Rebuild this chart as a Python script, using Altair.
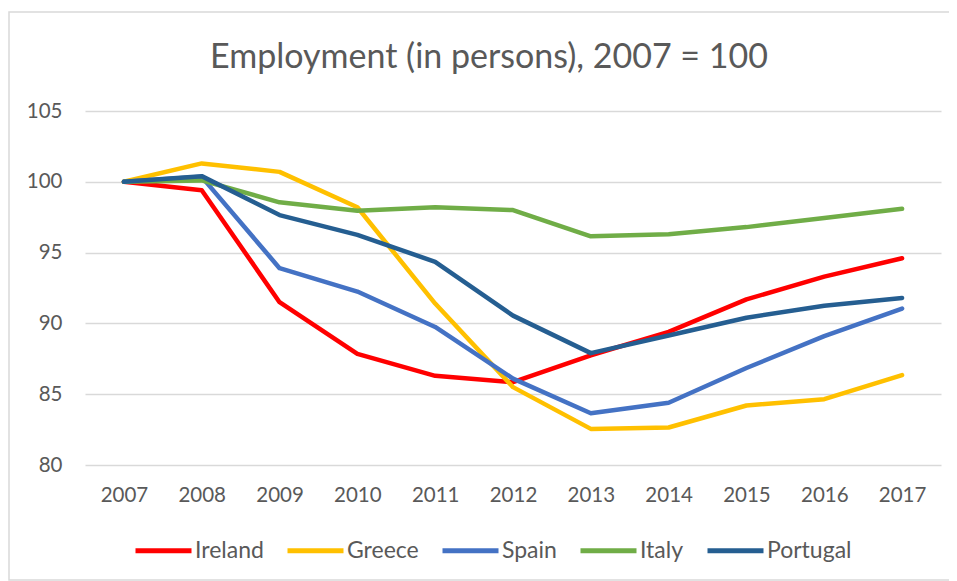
import altair as alt
import pandas as pd

years = ["2007", "2008", "2009", "2010", "2011", "2012", "2013", "2014", "2015", "2016", "2017"]
countries = ["Ireland", "Greece", "Spain", "Italy", "Portugal"]
colors = ["#FF0000", "#FFC000", "#4472C4", "#70AD47", "#255E91"]

ireland = [100, 99.4, 91.5, 87.85, 86.3, 85.85, 87.75, 89.4, 91.7, 93.3, 94.6]
greece = [100, 101.3, 100.7, 98.2, 91.4, 85.5, 82.55, 82.65, 84.2, 84.65, 86.35]
spain = [100, 100.35, 93.9, 92.25, 89.75, 86.1, 83.65, 84.4, 86.85, 89.1, 91.05]
italy = [100, 100.1, 98.55, 97.95, 98.2, 98.0, 96.15, 96.3, 96.8, 97.45, 98.1]
portugal = [100, 100.4, 97.65, 96.25, 94.35, 90.55, 87.9, 89.15, 90.4, 91.25, 91.8]

series = [ireland, greece, spain, italy, portugal]
rows = []
for i, (c, vals) in enumerate(zip(countries, series)):
    for y, v in zip(years, vals):
        rows.append({"year": y, "country": c, "value": v, "order": i})
df = pd.DataFrame(rows)

font = "Lato"
grey = "#595959"

lines = alt.Chart(df).mark_line(strokeWidth=4.5, strokeCap="round", strokeJoin="round").encode(
    x=alt.X("year:N", sort=years, scale=alt.Scale(type="point", padding=0.5),
            axis=alt.Axis(title=None, labelAngle=0, domain=False, ticks=False, grid=False,
                          labelPadding=20, labelFontSize=20.5, labelColor=grey, labelFont=font)),
    y=alt.Y("value:Q", scale=alt.Scale(domain=[80, 105], nice=False, zero=False),
            axis=alt.Axis(title=None, values=[80, 85, 90, 95, 100, 105], domain=False, ticks=False,
                          labelPadding=23, labelFontSize=20.5, labelColor=grey, labelFont=font,
                          gridColor="#D9D9D9", gridWidth=1.5)),
    color=alt.Color("country:N", sort=countries,
                    scale=alt.Scale(domain=countries, range=colors),
                    legend=alt.Legend(title=None, orient="none", direction="horizontal",
                                      legendX=48, legendY=409, symbolType="stroke",
                                      symbolSize=3136, symbolStrokeWidth=5, columnPadding=13,
                                      labelFontSize=23, labelColor=grey, labelFont=font,
                                      labelOffset=1)),
    order=alt.Order("order:Q"),
    detail="country:N",
)

border = alt.Chart(pd.DataFrame({"a": [0]})).mark_rect(
    fill=None, stroke="#D9D9D9", strokeWidth=1.5
).encode(x=alt.value(-76), x2=alt.value(900), y=alt.value(-99), y2=alt.value(469))

chart = alt.layer(border, lines).properties(
    width=856, height=354,
    autosize=alt.AutoSizeParams(type="none"),
    padding={"left": 77, "top": 103, "right": 8, "bottom": 116},
    title=alt.TitleParams("Employment (in persons), 2007 = 100", font=font, fontSize=34,
                          fontWeight="normal", color=grey, anchor="middle", dx=-24, offset=-64),
).configure_view(stroke=None)

chart.save("out.html", embed_options={"renderer": "svg", "actions": False})
